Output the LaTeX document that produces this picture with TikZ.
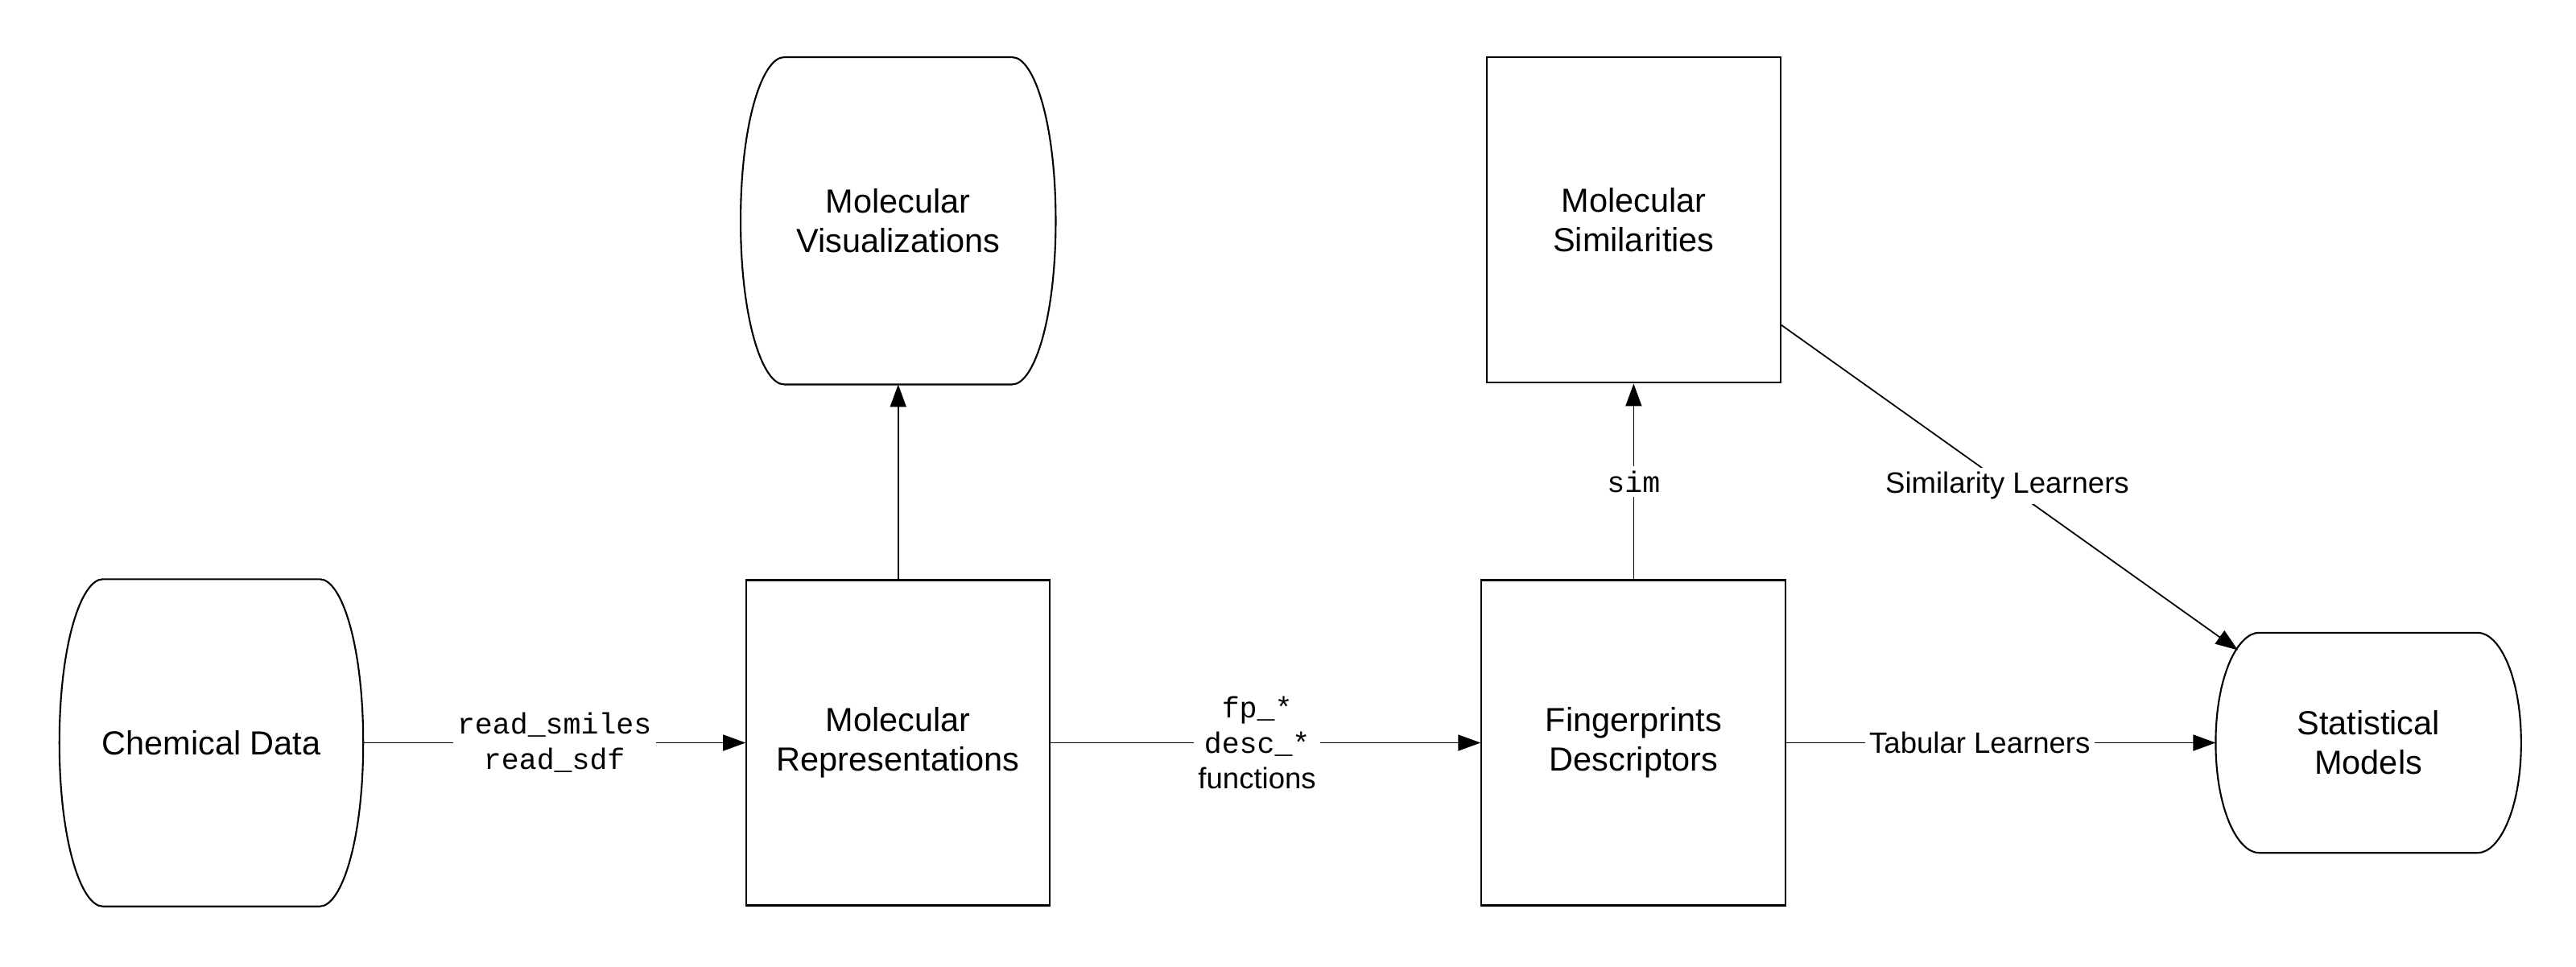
\documentclass[tikz,border=0pt]{standalone}
\usepackage{fontspec}
\setmainfont{Liberation Sans}
\setmonofont{Liberation Mono}
\usetikzlibrary{positioning,arrows.meta,calc}

% outline of the rounded data shapes (curved left and right sides)
\newcommand{\cornr}{0.54cm}
\newcommand{\storeoutline}[1]{%
  \draw[outl] ($(#1.north west)+(\cornr,0)$) -- ($(#1.north east)+(-\cornr,0)$)
    .. controls ($(#1.north east)+(-0.5*\cornr,0)$) and ($(#1.north east)!0.4!(#1.east)$) .. (#1.east)
    .. controls ($(#1.south east)!0.4!(#1.east)$) and ($(#1.south east)+(-0.5*\cornr,0)$) .. ($(#1.south east)+(-\cornr,0)$)
    -- ($(#1.south west)+(\cornr,0)$)
    .. controls ($(#1.south west)+(0.5*\cornr,0)$) and ($(#1.south west)!0.4!(#1.west)$) .. (#1.west)
    .. controls ($(#1.north west)!0.4!(#1.west)$) and ($(#1.north west)+(0.5*\cornr,0)$) .. cycle;}

\begin{document}
\begin{tikzpicture}[
  font=\fontsize{11.8}{14}\selectfont,
  box/.style={draw, line width=0.6pt, minimum width=3.77cm, minimum height=4.04cm,
              inner sep=0pt, align=center},
  store/.style={minimum width=3.76cm, minimum height=4.05cm, inner sep=0pt, align=center},
  outl/.style={line width=0.6pt},
  fl/.style={-{Triangle[length=2.8mm, width=2mm]}, line width=0.5pt},
  lbl/.style={fill=white, inner sep=1.5pt, align=center, font=\fontsize{10.4}{12.6}\selectfont}
]
\useasboundingbox (0,0) rectangle (32,-12);

\node[store] (chem) at (2.625,-9.225) {Chemical Data};
\node[box, right=4.75cm of chem] (rep) {Molecular\\Representations};
\node[box, minimum width=3.78cm, right=5.34cm of rep] (fp) {Fingerprints\\Descriptors};
\node[store, minimum width=3.78cm, minimum height=2.72cm, right=5.33cm of fp] (stat)
  {Statistical\\Models};
\node[store, minimum width=3.9cm, above=2.42cm of rep] (vis) {Molecular\\Visualizations};
\node[box, minimum width=3.65cm, above=2.43cm of fp] (sim) {Molecular\\Similarities};

\foreach \n in {chem, vis, stat} {\storeoutline{\n}}

\draw[fl] (chem) -- node[lbl] {\texttt{read\_smiles}\\\texttt{read\_sdf}} (rep);
\draw[fl] (rep) -- (vis);
\draw[fl] (rep) -- node[lbl, pos=0.48] {\texttt{fp\_*}\\\texttt{desc\_*}\\functions} (fp);
\draw[fl] (fp) -- node[lbl] {\texttt{sim}} (sim);
\draw[fl] (fp) -- node[lbl, pos=0.45] {Tabular Learners} (stat);
\draw[fl, shorten >=-0.34cm] (sim) -- node[lbl, pos=0.52] {Similarity Learners} (stat);
\end{tikzpicture}
\end{document}
